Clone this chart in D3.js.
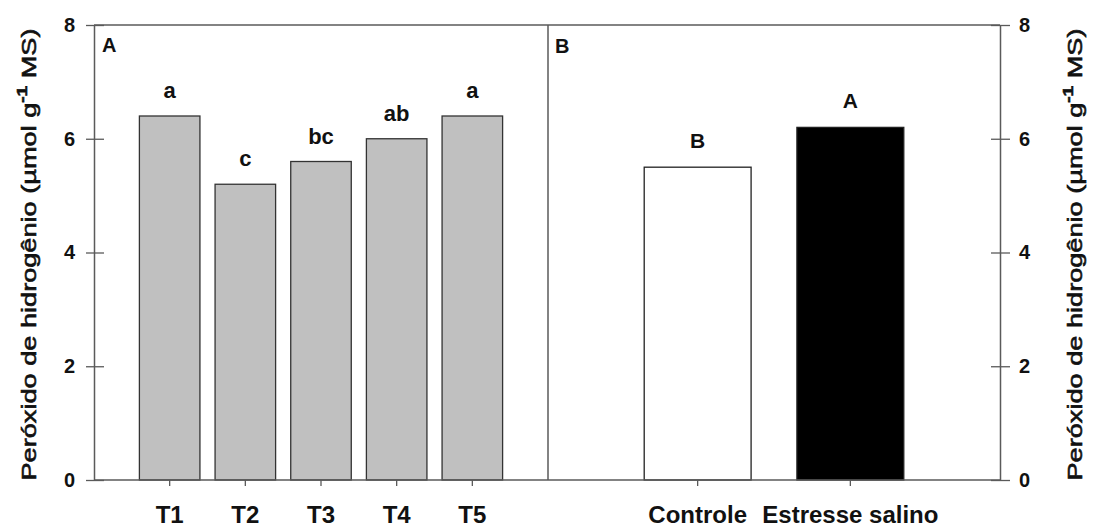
<!DOCTYPE html>
<html>
<head>
<meta charset="utf-8">
<script src="https://cdn.jsdelivr.net/npm/d3@7"></script>
<style>
  html, body { margin: 0; padding: 0; background: #fff; }
  svg { display: block; font-family: Arial, "Liberation Sans", sans-serif; }
</style>
</head>
<body>
<svg id="chart" width="1094" height="527"></svg>
<script>
// Panel A: treatments
const treatments = ["T1", "T2", "T3", "T4", "T5"];
const treatmentValues = [6.4, 5.2, 5.6, 6.0, 6.4];
const treatmentLetters = ["a", "c", "bc", "ab", "a"];

// Panel B: salinity condition
const conditions = ["Controle", "Estresse salino"];
const conditionValues = [5.5, 6.2];
const conditionLetters = ["B", "A"];

// Shared y axis
const yTicks = [0, 2, 4, 6, 8];
const yDomain = [0, 8];

const svg = d3.select("#chart");
const plotTop = 25, plotBottom = 480;
const leftX = 94, midX = 548, rightX = 1000;
const frameColor = "#5a5a5a";
const textColor = "#111";
const fontStack = "Arial, 'Liberation Sans', sans-serif";

const y = d3.scaleLinear().domain(yDomain).range([plotBottom, plotTop]);

const xA = d3.scaleBand().domain(treatments).range([leftX, midX])
  .paddingInner(0.2).paddingOuter(0.6);
const xB = d3.scaleBand().domain(conditions).range([midX, rightX])
  .paddingInner(0.3).paddingOuter(0.63);

// Bars, panel A
svg.append("g").selectAll("rect")
  .data(treatments)
  .join("rect")
  .attr("x", d => xA(d))
  .attr("y", (d, i) => y(treatmentValues[i]))
  .attr("width", xA.bandwidth())
  .attr("height", (d, i) => y(0) - y(treatmentValues[i]))
  .attr("fill", "#c0c0c0")
  .attr("stroke", "#333")
  .attr("stroke-width", 1.3);

// Bars, panel B
const fillsB = ["#ffffff", "#000000"];
svg.append("g").selectAll("rect")
  .data(conditions)
  .join("rect")
  .attr("x", d => xB(d))
  .attr("y", (d, i) => y(conditionValues[i]))
  .attr("width", xB.bandwidth())
  .attr("height", (d, i) => y(0) - y(conditionValues[i]))
  .attr("fill", (d, i) => fillsB[i])
  .attr("stroke", "#222")
  .attr("stroke-width", 1.3);

// Significance letters
svg.append("g").selectAll("text")
  .data(treatments)
  .join("text")
  .attr("x", d => xA(d) + xA.bandwidth() / 2)
  .attr("y", (d, i) => y(treatmentValues[i]) - 18)
  .attr("text-anchor", "middle")
  .attr("font-weight", "bold")
  .attr("font-size", 22)
  .attr("fill", textColor)
  .text((d, i) => treatmentLetters[i]);

svg.append("g").selectAll("text")
  .data(conditions)
  .join("text")
  .attr("x", d => xB(d) + xB.bandwidth() / 2)
  .attr("y", (d, i) => y(conditionValues[i]) - 19)
  .attr("text-anchor", "middle")
  .attr("font-weight", "bold")
  .attr("font-size", 21)
  .attr("fill", textColor)
  .text((d, i) => conditionLetters[i]);

// Frame: top, bottom and divider
const frame = svg.append("g").attr("stroke", frameColor).attr("stroke-width", 1.5).attr("fill", "none");
frame.append("line").attr("x1", leftX).attr("x2", rightX).attr("y1", plotTop).attr("y2", plotTop);
frame.append("line").attr("x1", leftX).attr("x2", rightX).attr("y1", plotBottom).attr("y2", plotBottom);
frame.append("line").attr("x1", midX).attr("x2", midX).attr("y1", plotTop).attr("y2", plotBottom);

// Left y axis (ticks cross the axis line)
const yLeft = svg.append("g").attr("transform", `translate(${leftX},0)`)
  .call(d3.axisLeft(y).tickValues(yTicks).tickSize(0).tickPadding(19).tickFormat(d3.format("d")));
yLeft.select(".domain").attr("stroke", frameColor).attr("stroke-width", 1.5);
yLeft.selectAll(".tick").append("line")
  .attr("x1", -8).attr("x2", 10).attr("stroke", frameColor).attr("stroke-width", 1.3);

// Right y axis
const yRight = svg.append("g").attr("transform", `translate(${rightX},0)`)
  .call(d3.axisRight(y).tickValues(yTicks).tickSize(0).tickPadding(19).tickFormat(d3.format("d")));
yRight.select(".domain").attr("stroke", frameColor).attr("stroke-width", 1.5);
yRight.selectAll(".tick").append("line")
  .attr("x1", -9).attr("x2", 10).attr("stroke", frameColor).attr("stroke-width", 1.3);

[yLeft, yRight].forEach(g => {
  g.attr("font-size", null).attr("font-family", null);
  g.selectAll(".tick text")
    .style("font-family", fontStack)
    .style("font-size", "20px")
    .style("font-weight", "bold")
    .attr("fill", textColor);
});

// Bottom axes
const xAxisA = svg.append("g").attr("transform", `translate(0,${plotBottom})`)
  .call(d3.axisBottom(xA).tickSize(6).tickPadding(20));
const xAxisB = svg.append("g").attr("transform", `translate(0,${plotBottom})`)
  .call(d3.axisBottom(xB).tickSize(6).tickPadding(20));
[xAxisA, xAxisB].forEach(g => {
  g.attr("font-size", null).attr("font-family", null);
  g.select(".domain").remove();
  g.selectAll(".tick line").attr("stroke", frameColor).attr("stroke-width", 1.3);
  g.selectAll(".tick text")
    .style("font-family", fontStack)
    .style("font-size", "24px")
    .style("font-weight", "bold")
    .attr("fill", textColor);
});

// Panel letters
svg.append("text").attr("x", 102).attr("y", 52)
  .style("font-weight", "bold").style("font-size", "20px").attr("fill", textColor).text("A");
svg.append("text").attr("x", 555).attr("y", 53)
  .style("font-weight", "bold").style("font-size", "20px").attr("fill", textColor).text("B");

// Axis titles
function axisTitle(xPos) {
  const t = svg.append("text")
    .attr("transform", `translate(${xPos},${(plotTop + plotBottom) / 2 + 2}) rotate(-90)`)
    .attr("text-anchor", "middle")
    .style("font-size", "20px")
    .attr("fill", textColor)
    .attr("stroke", textColor)
    .attr("stroke-width", 0.6)
    .attr("textLength", 452)
    .attr("lengthAdjust", "spacingAndGlyphs");
  t.append("tspan").text("Peróxido de hidrogênio (µmol g");
  t.append("tspan").attr("dy", -9).style("font-size", "14px").style("font-weight", "bold").text("-1");
  t.append("tspan").attr("dy", 9).text(" MS)");
}
axisTitle(36);
axisTitle(1082);
</script>
</body>
</html>
